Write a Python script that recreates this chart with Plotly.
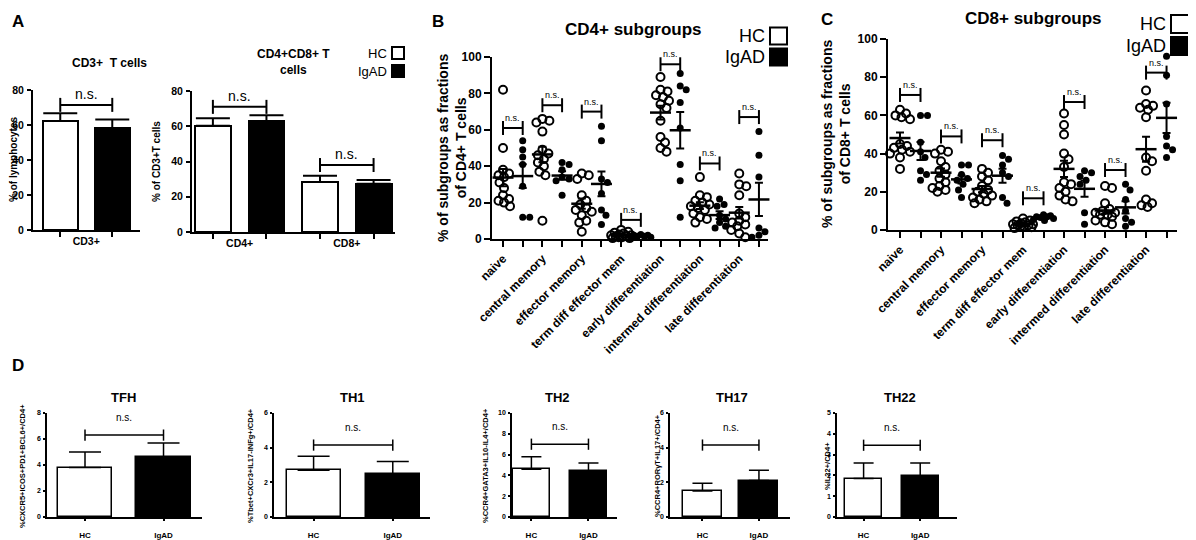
import numpy as np
import plotly.graph_objects as go

W, H = 1196, 540
PAGE = 8  # default body margin of the html page
FW, FH = W - PAGE, H - PAGE
FONT = "Liberation Sans, Arial, sans-serif"

# ---------------- data ----------------
# A: CD3+ T cells, % of lymphocytes (mean, SEM)
cd3_groups = ["CD3+"]
cd3_hc = [62.3]
cd3_hc_sem = [4.4]
cd3_igad = [58.3]
cd3_igad_sem = [4.8]

# A: CD4+ / CD8+ T cells, % of CD3+ T cells
cd48_groups = ["CD4+", "CD8+"]
cd48_hc = [60.3, 28.4]
cd48_hc_sem = [4.2, 3.5]
cd48_igad = [63.0, 27.4]
cd48_igad_sem = [3.2, 2.1]

subsets = ["naive", "central memory", "effector memory", "term diff effector mem",
           "early differentiation", "intermed differentiation", "late differentiation"]

# B: CD4+ subgroups, individual donors
cd4_hc = [
    [82, 50, 38, 36, 35, 34, 31, 28, 24, 22, 21, 20, 18],
    [66, 65, 64, 59, 49, 47, 46, 44, 42, 40, 37, 35, 10],
    [36, 35, 33, 24, 21, 19, 17, 16, 15, 13, 10, 9, 4],
    [5, 4, 3.5, 3, 2.5, 2, 2, 1.5, 1.5, 1, 1, 0.5, 0.5],
    [89, 82, 81, 79, 78, 76, 74, 72, 65, 56, 53, 50, 48],
    [34, 24, 23, 21, 20, 19, 18, 17, 16, 14, 12, 11, 9],
    [36, 30, 29, 24, 14, 12, 10, 9, 8, 7, 5, 3, 1],
]
cd4_igad = [
    [54, 49, 45, 41, 29, 12, 12],
    [42, 41, 38, 34, 33, 32, 24],
    [62, 54, 33, 31, 25, 16, 13, 8],
    [2.5, 2, 2, 1.5, 1.5, 1, 1],
    [91, 84, 82, 75, 61, 41, 32, 12],
    [22, 19, 18, 13, 11, 9, 7, 6],
    [59, 46, 34, 6, 4, 2, 1],
]
cd4_ns_y = [61, 73.5, 70, 10.5, 96, 41.5, 67]

# C: CD8+ subgroups, individual donors
cd8_hc = [
    [63, 61, 60, 59, 58, 45, 44, 43, 42, 41, 40, 38, 32],
    [42, 41, 40, 36, 33, 31, 29, 27, 25, 23, 22, 21, 20],
    [32, 30, 28, 26, 23, 21, 20, 19, 18, 17, 16, 15, 14],
    [6, 5, 4.5, 4, 3.5, 3, 3, 2.5, 2.5, 2, 2, 1.5, 1],
    [61, 55, 50, 40, 37, 33, 25, 24, 22, 20, 18, 16, 15],
    [23, 22, 14, 11, 10, 9, 9, 8, 8, 7, 5, 4, 3],
    [73, 66, 65, 64, 63, 59, 38, 36, 31, 16, 14, 13, 12],
]
cd8_igad = [
    [60, 60, 46, 41, 38, 31, 29, 26],
    [34, 34, 29, 27, 26, 24, 21, 17],
    [39, 37, 34, 30, 28, 17, 14],
    [8, 7.5, 7, 7, 6.5, 6, 5.5, 5],
    [31, 30, 28, 26, 24, 9, 3],
    [24, 21, 16, 10, 6, 4, 2],
    [91, 81, 66, 49, 44, 42, 38],
]
cd8_ns_y = [70.7, 49, 47, 16.6, 67, 31.4, 82.4]

# D: T helper subsets (mean, SEM)
th_names = ["TFH", "TH1", "TH2", "TH17", "TH22"]
th_ylabels = ["%CXCR5+ICOS+PD1+BCL6+/CD4+", "%Tbet+CXCr3+IL17-INFg+/CD4+",
              "%CCR4+GATA3+IL10-IL4+/CD4+", "%CCR4+ROR\u03b3T+IL17+/CD4+", "%IL22+/CD4+"]
th_groups = ["HC", "IgAD"]
th_ymax = [8, 6, 10, 6, 5]
th_hc = [3.8, 2.7, 4.6, 1.5, 1.85]
th_hc_sem = [1.2, 0.8, 1.2, 0.45, 0.75]
th_igad = [4.6, 2.5, 4.45, 2.1, 1.95]
th_igad_sem = [1.1, 0.7, 0.75, 0.6, 0.65]
th_ns_y = [6.3, 4.15, 7.0, 4.15, 3.45]

# ---------------- helpers ----------------
fig = go.Figure()


def px_x(p):
    return (p - PAGE) / FW


def px_y(p):
    return 1 - (p - PAGE) / FH


def add_axes(n, x0, x1, y0, y1, xr, yr, lw=2, tfont=11, ticklen=5):
    s = "" if n == 1 else str(n)
    common = dict(showline=True, linecolor="black", linewidth=lw, ticks="outside",
                  ticklen=ticklen, tickwidth=lw, tickcolor="black", showgrid=False,
                  zeroline=False, fixedrange=True, automargin=False,
                  tickfont=dict(family=FONT, size=tfont, color="black", weight="bold"))
    fig.update_layout(**{
        f"xaxis{s}": dict(domain=[px_x(x0), px_x(x1)], range=xr, anchor=f"y{s}", **common),
        f"yaxis{s}": dict(domain=[px_y(y1), px_y(y0)], range=yr, anchor=f"x{s}", **common),
    })
    return "x" + s, "y" + s


def bars(ax, pos, vals, sems, fill, width, capw, lw=2):
    fig.add_trace(go.Bar(
        x=pos, y=vals, width=width, xaxis=ax[0], yaxis=ax[1],
        marker=dict(color=fill, line=dict(color="black", width=lw)),
        error_y=dict(type="data", array=sems, arrayminus=[0] * len(sems), symmetric=False,
                     color="black", thickness=lw, width=capw)))


def bracket(ax, xa, xb, y, fsize, cap=10, lw=2, gap=3):
    fig.add_trace(go.Scatter(
        x=[xa, xb], y=[y, y], mode="lines+markers", xaxis=ax[0], yaxis=ax[1],
        line=dict(color="black", width=lw), cliponaxis=False,
        marker=dict(symbol="line-ns", size=cap, line=dict(color="black", width=lw))))
    fig.add_annotation(x=(xa + xb) / 2, y=y, xref=ax[0], yref=ax[1], text="n.s.",
                       showarrow=False, yanchor="bottom", yshift=gap,
                       font=dict(family=FONT, size=fsize, color="black"))


def swarm(vals, ppx, ppy, d=7.0, maxoff=10.0):
    # simple beeswarm: horizontal offsets so dots do not pile up
    placed, offs = [], []
    cand = [0.0]
    for k in np.arange(0.5, maxoff + 0.01, 0.5):
        cand += [k, -k]
    for v in vals:
        y = v * ppy
        best, bestd = 0.0, -1.0
        for c in cand:
            md = min((np.hypot(c - a, y - b) for a, b in placed), default=1e9)
            if md >= d:
                best = c
                break
            if md > bestd:
                best, bestd = c, md
        placed.append((best, y))
        offs.append(best / ppx)
    return offs


def dots(ax, pos, vals, ppx, ppy, hc):
    offs = swarm(vals, ppx, ppy)
    if hc:
        mk = dict(symbol="circle-open", size=8, color="black", line=dict(width=2, color="black"))
    else:
        mk = dict(symbol="circle", size=7, color="black")
    fig.add_trace(go.Scatter(x=[pos + o for o in offs], y=vals, mode="markers",
                             xaxis=ax[0], yaxis=ax[1], marker=mk, cliponaxis=False))
    v = np.array(vals, dtype=float)
    m = v.mean()
    sem = v.std(ddof=1) / np.sqrt(len(v))
    fig.add_trace(go.Scatter(
        x=[pos], y=[m], mode="markers", xaxis=ax[0], yaxis=ax[1], cliponaxis=False,
        marker=dict(symbol="line-ew", size=15, line=dict(width=2.5, color="black")),
        error_y=dict(type="data", array=[sem], color="black", thickness=2, width=4)))


def text(x, y, s, size, bold=False, angle=0, xanchor="center", yanchor="middle"):
    fig.add_annotation(x=px_x(x), y=px_y(y), xref="paper", yref="paper", text=s,
                       showarrow=False, textangle=angle, xanchor=xanchor, yanchor=yanchor,
                       font=dict(family=FONT, size=size, color="black",
                                 weight="bold" if bold else "normal"))


def legend(xr, y_hc, y_igad, sq, size):
    for y, lab, fill in [(y_hc, "HC", "white"), (y_igad, "IgAD", "black")]:
        text(xr, y, lab, size, xanchor="right")
        fig.add_shape(type="rect", xref="paper", yref="paper",
                      x0=px_x(xr + 3), x1=px_x(xr + 3 + sq),
                      y0=px_y(y - sq / 2), y1=px_y(y + sq / 2),
                      fillcolor=fill, line=dict(color="black", width=2))


# ---------------- panel A ----------------
a1 = add_axes(1, 33, 140, 90, 230, [-0.524, 1.533], [0, 80], tfont=10.5, ticklen=4)
fig.update_layout(
    xaxis=dict(tickvals=[0.5], ticktext=cd3_groups, ticks="",
               minor=dict(tickmode="array", tickvals=[0, 1], ticks="outside",
                          ticklen=5, tickwidth=2, tickcolor="black")),
    yaxis=dict(tickvals=[0, 20, 40, 60, 80], ticklabelstandoff=1))
bars(a1, [0], cd3_hc, cd3_hc_sem, "white", 0.67, 17)
bars(a1, [1], cd3_igad, cd3_igad_sem, "black", 0.67, 17)
bracket(a1, 0, 1, 71.5, 14, cap=10, gap=1)

a2 = add_axes(2, 192, 395, 91, 232, [-0.39, 3.40], [0, 80], tfont=10.5, ticklen=4)
fig.update_layout(
    xaxis2=dict(tickvals=[0.5, 2.5], ticktext=cd48_groups, ticks="",
                minor=dict(tickmode="array", tickvals=[0, 1, 2, 3], ticks="outside",
                           ticklen=5, tickwidth=2, tickcolor="black")),
    yaxis2=dict(tickvals=[0, 20, 40, 60, 80], ticklabelstandoff=1))
bars(a2, [0, 2], cd48_hc, cd48_hc_sem, "white", 0.67, 17)
bars(a2, [1, 3], cd48_igad, cd48_igad_sem, "black", 0.67, 17)
bracket(a2, 0, 1, 71, 14, cap=10, gap=1)
bracket(a2, 2, 3, 38, 14, cap=10, gap=1)

text(18, 21, "A", 17, bold=True)
text(109, 63, "CD3+  T cells", 12, bold=True)
text(293, 62, "CD4+CD8+ T<br>cells", 12, bold=True)
text(13, 160, "% of lymphocytes", 10, bold=True, angle=-90)
text(156, 162, "% of CD3+T cells", 10, bold=True, angle=-90)
legend(389, 53, 71, 12, 13)

# ---------------- panels B and C ----------------
n_pos = 2 * len(subsets)
sub_ticktext = []
for s in subsets:
    sub_ticktext += [s, ""]


def subgroup_panel(n, box, xr, ppx, ppy, hc_data, igad_data, ns_y):
    ax = add_axes(n, *box, xr, [0, 100], tfont=12, ticklen=6)
    s = str(n)
    fig.update_layout(**{
        f"xaxis{s}": dict(tickvals=list(range(n_pos)), ticktext=sub_ticktext, tickangle=-45),
        f"yaxis{s}": dict(tickvals=[0, 20, 40, 60, 80, 100]),
    })
    for i in range(len(subsets)):
        dots(ax, 2 * i, hc_data[i], ppx, ppy, True)
        dots(ax, 2 * i + 1, igad_data[i], ppx, ppy, False)
        bracket(ax, 2 * i, 2 * i + 1, ns_y[i], 9, cap=10, gap=3)


subgroup_panel(3, (492, 768, 57, 239), [-0.56, 13.46], 19.7, 1.82, cd4_hc, cd4_igad, cd4_ns_y)
subgroup_panel(4, (888, 1177, 39, 230), [-0.585, 13.51], 20.5, 1.91, cd8_hc, cd8_igad, cd8_ns_y)

text(438, 21, "B", 17, bold=True)
text(633, 30, "CD4+ subgroups", 17, bold=True)
text(452, 148, "% of subgroups as fractions<br>of CD4+ T cells", 14, bold=True, angle=-90)
legend(767, 36, 57, 17, 18)

text(827, 20, "C", 17, bold=True)
text(1033, 18, "CD8+ subgroups", 17, bold=True)
text(836, 134, "% of subgroups as fractions<br>of CD8+ T cells", 14, bold=True, angle=-90)
legend(1168, 24, 46, 18, 18)

# ---------------- panel D ----------------
d_boxes = [(47, 202), (274, 430), (512, 617), (670, 790), (837, 957)]
d_xr = [[-0.484, 1.49], [-0.5, 1.47], [-0.34, 1.5], [-0.575, 1.55], [-0.47, 1.65]]
d_width = [0.69, 0.68, 0.65, 0.69, 0.65]
d_cap = [16, 16, 10, 10, 10]
d_title_x = [123, 352, 557, 732, 900]
d_ylab_x = [22, 250, 485, 657, 827]

for k in range(len(th_names)):
    n = 5 + k
    x0, x1 = d_boxes[k]
    ax = add_axes(n, x0, x1, 413, 517, d_xr[k], [0, th_ymax[k]], lw=1.5, tfont=7, ticklen=2)
    s = str(n)
    fig.update_layout(**{
        f"xaxis{s}": dict(tickvals=[0, 1], ticktext=th_groups, ticklabelstandoff=8,
                          tickfont=dict(size=8)),
        f"yaxis{s}": dict(dtick=2 if th_ymax[k] > 5 else 1, tick0=0, ticklabelstandoff=1),
    })
    bars(ax, [0], [th_hc[k]], [th_hc_sem[k]], "white", d_width[k], d_cap[k], lw=1.5)
    bars(ax, [1], [th_igad[k]], [th_igad_sem[k]], "black", d_width[k], d_cap[k], lw=1.5)
    bracket(ax, 0, 1, th_ns_y[k], 10, cap=8, lw=1.5, gap=10)
    text(d_title_x[k], 397, th_names[k], 13, bold=True)
    text(d_ylab_x[k], 466, th_ylabels[k], 7.5, bold=True, angle=-90)

text(18, 365, "D", 17, bold=True)

fig.update_layout(width=FW, height=FH,
                  margin=dict(l=0, r=0, t=0, b=0, pad=0, autoexpand=False),
                  paper_bgcolor="white", plot_bgcolor="white", showlegend=False,
                  bargap=0, font=dict(family=FONT, color="black"))

fig.write_html("out.html")
